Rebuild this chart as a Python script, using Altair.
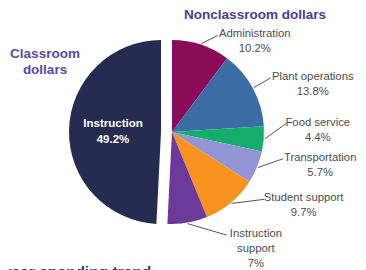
import altair as alt
import pandas as pd

categories = ["Administration", "Plant operations", "Food service", "Transportation",
              "Student support", "Instruction support", "Instruction"]
label_text = ["Administration", "Plant operations", "Food service", "Transportation",
              "Student support", "Instruction\nsupport", "Instruction"]
shares = [10.2, 13.8, 4.4, 5.7, 9.7, 7, 49.2]
colors = ["#8a0b58", "#3b6ea4", "#14ad6c", "#9195d4", "#f7931e", "#6b3a9a", "#262c50"]

df = pd.DataFrame({"cat": categories, "lab": label_text, "value": shares,
                   "rank": list(range(len(categories)))})

CX, CY, R = 164, 116, 92      # right part of the pie
CX_EXPL = 153                 # exploded "Instruction" slice
LCX, LCY, RL = 172, 118, 106  # label ring

base = alt.Chart(df).transform_window(
    cum="sum(value)", sort=[alt.SortField("rank")], frame=[None, 0]
).transform_calculate(
    start="datum.cum - datum.value",
    mid="(datum.cum - datum.value/2) / 100 * 2 * PI",
)

theta_scale = alt.Scale(domain=[0, 100], range=[0, 6.283185307179586])
color_enc = alt.Color("cat:N", scale=alt.Scale(domain=categories, range=colors), legend=None)

slices = base.transform_filter("datum.cat != 'Instruction'").mark_arc(outerRadius=R).encode(
    theta=alt.Theta("start:Q", scale=theta_scale),
    theta2="cum:Q",
    color=color_enc,
    x=alt.value(CX), y=alt.value(CY),
)
instr = base.transform_filter("datum.cat == 'Instruction'").mark_arc(outerRadius=R).encode(
    theta=alt.Theta("start:Q", scale=theta_scale),
    theta2="cum:Q",
    color=color_enc,
    x=alt.value(CX_EXPL), y=alt.value(CY),
)

lab = base.transform_filter("datum.cat != 'Instruction'").transform_calculate(
    la="(PI/2 + 0.876 * (datum.mid - PI/2) - 6.4 * PI / 180)",
).transform_calculate(
    lx=f"{LCX} + {RL} * sin(datum.la)",
    ly=f"0.5 * ({LCY} - {RL} * cos(datum.la)) + 0.5 * (20 + 41 * datum.rank)",
    ex=f"{CX} + {R+1} * sin(datum.mid)",
    ey=f"{CY} - {R+1} * cos(datum.mid)",
    txt="datum.lab + '\\n' + datum.value + '%'",
    first="split(datum.lab, '\\n')[0]",
).transform_calculate(
    tx="datum.lx + 1 + length(datum.first) * 5.15 / 2",
    ty="datum.ly - 7",
)

leaders = lab.mark_rule(color="#555555", strokeWidth=1).encode(
    x=alt.X("ex:Q", scale=None), y=alt.Y("ey:Q", scale=None),
    x2="lx:Q", y2="ly:Q",
)
labels = lab.mark_text(align="center", baseline="top", lineBreak="\n", lineHeight=15,
                       fontSize=11.3, font="Liberation Sans", color="#4d4d4d").encode(
    x=alt.X("tx:Q", scale=None), y=alt.Y("ty:Q", scale=None), text="txt:N",
)

inner = base.transform_filter("datum.cat == 'Instruction'").transform_calculate(
    txt="datum.cat + '\\n' + datum.value + '%'",
).mark_text(align="center", baseline="middle", lineBreak="\n", lineHeight=16,
            fontSize=11.5, fontWeight="bold", font="Liberation Sans", color="white").encode(
    x=alt.value(105), y=alt.value(108), text="txt:N",
)

classroom = alt.Chart(pd.DataFrame({"t": ["Classroom\ndollars"]})).mark_text(
    align="center", baseline="middle", lineBreak="\n", lineHeight=16, fontSize=13.5,
    fontWeight="bold", font="Liberation Sans", color="#5a49a8"
).encode(x=alt.value(37), y=alt.value(38), text="t:N")

nonclass = alt.Chart(pd.DataFrame({"t": ["Nonclassroom dollars"]})).mark_text(
    align="center", baseline="middle", fontSize=13.5, fontWeight="bold",
    font="Liberation Sans", color="#4a3c94"
).encode(x=alt.value(247), y=alt.value(-1), text="t:N")

trend = alt.Chart(pd.DataFrame({"t": ["year spending trend"]})).mark_text(
    align="left", baseline="alphabetic", fontSize=15.5, fontWeight="bold",
    font="Liberation Sans", color="#3b2f80"
).encode(x=alt.value(-5), y=alt.value(261), text="t:N")

chart = alt.layer(slices, instr, leaders, labels, inner, classroom, nonclass, trend).properties(
    width=350, height=254,
    padding={"left": 0, "top": 8, "right": 0, "bottom": 0},
    autosize=alt.AutoSizeParams(type="none"),
).configure_view(stroke=None)

chart.save("out.html", embed_options={"renderer": "svg", "actions": False})
